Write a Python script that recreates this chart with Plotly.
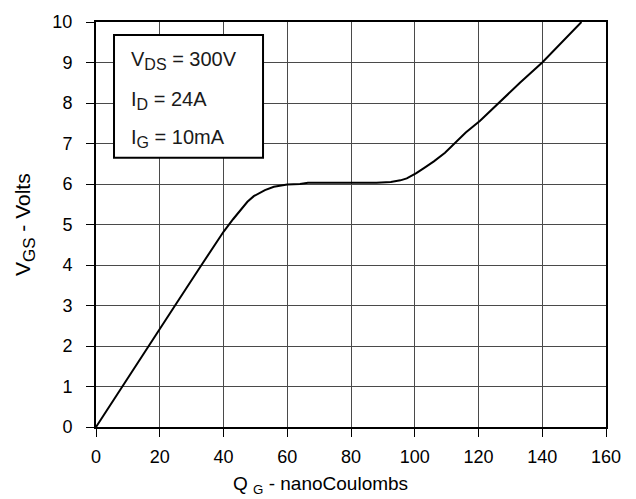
import plotly.graph_objects as go

# Gate charge curve
qg_nc = [0, 8.2, 16.5, 24.8, 33.1, 40.0, 43.0, 45.3, 47.5, 49.5, 51.5, 53.0, 55.8, 58.0,
         60.0, 64.0, 66.5, 80.0, 88.0, 92.5, 95.5, 97.5, 100.5, 103.0, 106.0, 109.5,
         112.6, 116.0, 120.5, 126.2, 133.0, 140.0, 152.3]
vgs_v = [0, 1.0, 2.0, 3.0, 4.0, 4.82, 5.13, 5.35, 5.56, 5.70, 5.79, 5.85, 5.93, 5.97,
         5.99, 6.0, 6.03, 6.03, 6.03, 6.05, 6.09, 6.14, 6.27, 6.40, 6.56, 6.77,
         7.0, 7.27, 7.56, 8.0, 8.5, 9.0, 10.0]

x_ticks = [0, 20, 40, 60, 80, 100, 120, 140, 160]
y_ticks = [0, 1, 2, 3, 4, 5, 6, 7, 8, 9, 10]

conditions = ["V<sub><span style='font-size:16px'>DS</span></sub> = 300V",
              "I<sub><span style='font-size:16px'>D</span></sub> = 24A",
              "I<sub><span style='font-size:16px'>G</span></sub> = 10mA"]

FONT = "Liberation Sans, Arial, sans-serif"

fig = go.Figure()
fig.add_trace(go.Scatter(x=qg_nc, y=vgs_v, mode="lines",
                         line=dict(color="black", width=2),
                         showlegend=False, hoverinfo="skip"))

axis_common = dict(showline=True, linecolor="black", linewidth=2, mirror=True,
                   showgrid=True, gridcolor="#4a4a4a", gridwidth=1,
                   ticks="outside", ticklen=8, tickcolor="black", tickwidth=1,
                   zeroline=False, tickfont=dict(family=FONT, size=18, color="black"))

fig.update_xaxes(range=[0, 160], tickvals=x_ticks, ticktext=[str(v) for v in x_ticks],
                 ticklabelstandoff=4, **axis_common)
fig.update_yaxes(range=[0, 10], tickvals=y_ticks, ticktext=[str(v) for v in y_ticks],
                 ticklabelstandoff=10, **axis_common)

# conditions box
fig.add_shape(type="rect", xref="x", yref="y", x0=5.65, x1=52.4, y0=6.65, y1=9.68,
              line=dict(color="black", width=2), fillcolor="white", layer="above")
for txt, yy in zip(conditions, [9.06, 8.06, 7.12]):
    fig.add_annotation(x=10.2, y=yy, xref="x", yref="y", text=txt, showarrow=False,
                       xanchor="left", yanchor="middle",
                       font=dict(family=FONT, size=20, color="#1a1a1a"))

# axis titles
fig.add_annotation(x=(320 - 96) / 510, y=-0.143, xref="paper", yref="paper",
                   text="Q <sub>G</sub> - nanoCoulombs", showarrow=False,
                   xanchor="center", yanchor="middle",
                   font=dict(family=FONT, size=19, color="black"))
fig.add_annotation(x=-0.14, y=0.5, xref="paper", yref="paper",
                   text="V<sub><span style='font-size:17px'>GS</span></sub> - Volts",
                   showarrow=False, textangle=-90,
                   xanchor="center", yanchor="middle",
                   font=dict(family=FONT, size=21, color="black"))

fig.update_layout(width=636, height=499,
                  margin=dict(l=96, r=30, t=18, b=72),
                  paper_bgcolor="white", plot_bgcolor="white",
                  font=dict(family=FONT))

fig.write_html("out.html", config={"displayModeBar": False},
               post_script="document.body.style.margin='0';document.body.style.overflow='hidden';")
